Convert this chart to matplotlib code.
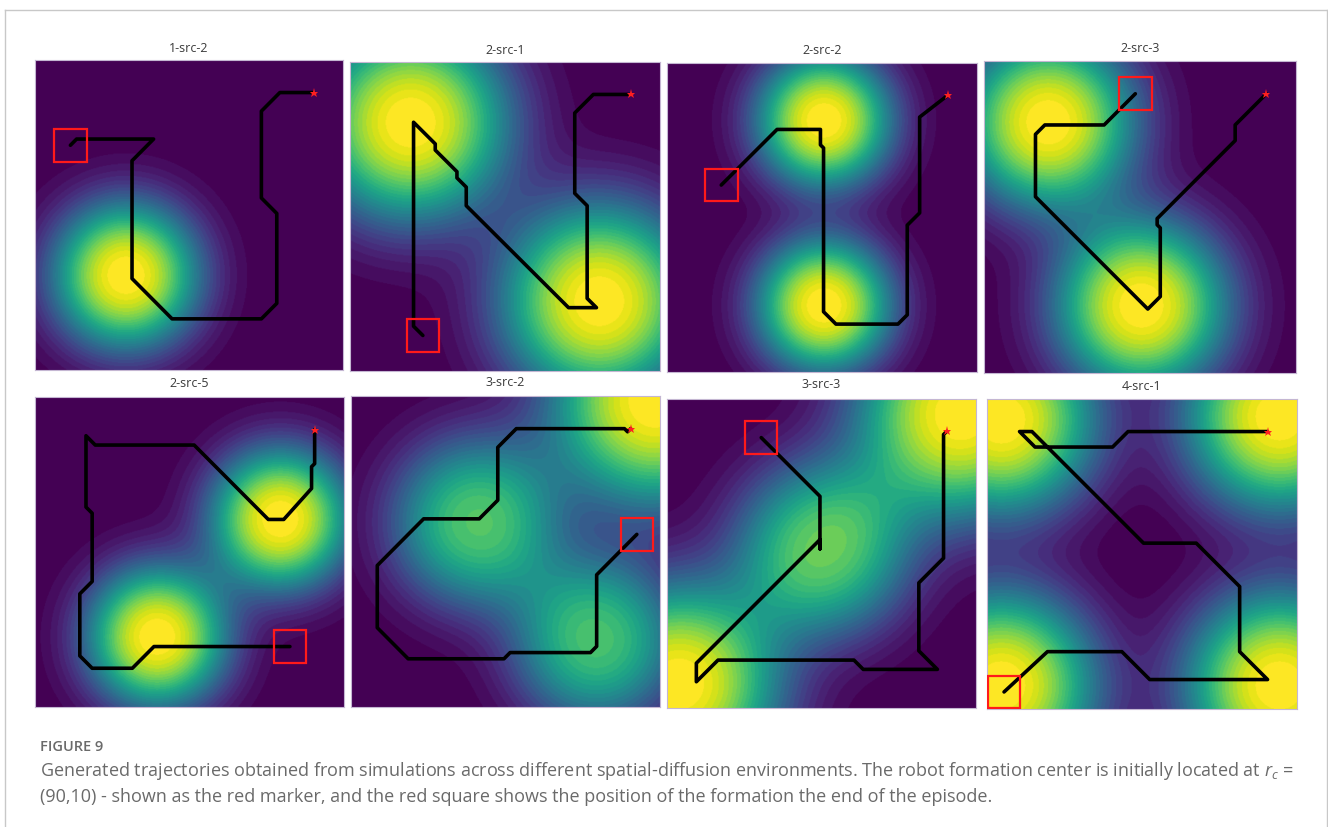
import numpy as np
import matplotlib
matplotlib.use("Agg")
import matplotlib.pyplot as plt
from matplotlib.patches import Rectangle
from matplotlib.lines import Line2D

plt.rcParams['font.family'] = ['Open Sans', 'DejaVu Sans']
plt.rcParams['mathtext.fontset'] = 'custom'
plt.rcParams['mathtext.it'] = 'Open Sans:italic'
plt.rcParams['mathtext.rm'] = 'Open Sans'

W, H = 1328, 827

# ---------------------------------------------------------------- data
TITLES = ["1-src-2", "2-src-1", "2-src-2", "2-src-3",
          "2-src-5", "3-src-2", "3-src-3", "4-src-1"]

START = (90, 10)          # initial formation centre r_c
SQUARE_SIDE = 10.5        # size of the final-position marker (grid cells)

# trajectories of the formation centre (grid cells; x to the right, y downwards)
P1_X = [90, 79, 73, 73, 78, 78, 73, 44, 31, 31, 38, 13, 11]
P1_Y = [10, 10, 16, 44, 49, 78, 83, 83, 70, 32, 25, 25, 27]

P2_X = [90, 78, 72, 72, 76, 76, 79, 70, 37, 37, 34, 34, 27, 27, 20, 20, 23]
P2_Y = [10, 10, 16, 42, 46, 76, 79, 79, 46, 40, 37, 35, 28, 26, 19, 85, 88]

P3_X = [90, 81, 81, 77, 77, 74, 54, 50, 50, 49, 49, 35, 17]
P3_Y = [10, 17, 48, 52, 81, 84, 84, 80, 27, 26, 21, 21, 39]

P4_X = [90, 80, 80, 55, 55, 56, 56, 52, 16, 16, 19, 38, 48]
P4_Y = [10, 20, 25, 50, 52, 53, 75, 79, 43, 23, 20, 20, 10]

P5_X = [90, 90, 89, 89, 80, 75, 51, 19, 16, 16, 18, 18, 14, 14, 18, 31, 38, 82]
P5_Y = [10, 21, 22, 29, 39, 39, 15, 15, 12, 35, 37, 59, 63, 83, 87, 87, 80, 80]

P6_X = [90, 89, 88, 53, 47, 47, 41, 23, 8, 8, 18, 49, 51, 77, 79, 79, 92]
P6_Y = [10, 11, 10, 10, 16, 33, 39, 39, 54, 74, 84, 84, 82, 82, 80, 57, 44]

P7_X = [90, 89, 89, 81, 81, 87, 63, 60, 16, 9, 9, 49, 49, 49, 30]
P7_Y = [10, 11, 51, 59, 81, 87, 87, 84, 84, 91, 85, 45, 48, 31, 12]

P8_X = [90, 45, 40, 15, 10, 14, 50, 67, 81, 81, 90, 52, 43, 19, 5]
P8_Y = [10, 10, 15, 15, 10, 10, 46, 46, 60, 81, 90, 90, 81, 81, 94]

# diffusion sources: (x, y, strength, spread radius)
P1_SRC = [(29, 69, 1.0, 24)]
P2_SRC = [(19, 19, 1.0, 32), (80, 77, 1.0, 32)]
P3_SRC = [(50, 18, 1.0, 22), (50, 78, 1.0, 22)]
P4_SRC = [(20, 19, 1.0, 28), (50, 78, 1.0, 28)]
P5_SRC = [(79, 39, 1.0, 23), (39, 77, 1.0, 23)]
P6_SRC = [(40, 40, 0.72, 27), (79, 78, 0.70, 27), (98, 1, 1.0, 34)]
P7_SRC = [(95, 4, 1.0, 34), (3, 92, 1.0, 33), (50, 48, 0.75, 28)]
P8_SRC = [(4, 6, 1.0, 31), (94, 5, 1.0, 31), (4, 92, 1.0, 31), (94, 92, 1.0, 31)]

DECAY = 2.5   # decay exponent of the concentration profile

PATHS_X = [P1_X, P2_X, P3_X, P4_X, P5_X, P6_X, P7_X, P8_X]
PATHS_Y = [P1_Y, P2_Y, P3_Y, P4_Y, P5_Y, P6_Y, P7_Y, P8_Y]
SOURCES = [P1_SRC, P2_SRC, P3_SRC, P4_SRC, P5_SRC, P6_SRC, P7_SRC, P8_SRC]

# ---------------------------------------------------------------- layout (pixels)
BOXES = [(35, 60, 343, 370), (350, 62, 660, 371), (667, 63, 977, 372), (984, 61, 1296, 373),
         (35, 397, 344, 707), (351, 396, 660, 707), (667, 399, 976, 708), (987, 399, 1297, 709)]
TITLE_Y = [48, 50, 50, 49, 384, 383, 385, 386]

fig = plt.figure(figsize=(W / 100, H / 100), dpi=100)
fig.patch.set_facecolor('white')

grid = np.linspace(-0.5, 99.5, 401)
GX, GY = np.meshgrid(grid, grid)
cmap = plt.get_cmap('viridis', 32)


def concentration(src):
    field = np.zeros_like(GX)
    for sx, sy, amp, radius in src:
        r = np.hypot(GX - sx, GY - sy)
        field += amp * np.exp(-(r / radius) ** DECAY)
    return field


for i, (x0, y0, x1, y1) in enumerate(BOXES):
    ax = fig.add_axes([x0 / W, 1 - y1 / H, (x1 - x0) / W, (y1 - y0) / H])
    F = concentration(SOURCES[i])
    ax.imshow(F, cmap=cmap, extent=(-0.5, 99.5, 99.5, -0.5),
              origin='upper', aspect='auto', interpolation='bilinear')
    ax.plot(PATHS_X[i], PATHS_Y[i], color='black', lw=2.6,
            solid_capstyle='round', solid_joinstyle='round', zorder=3)
    ex, ey = PATHS_X[i][-1], PATHS_Y[i][-1]
    ax.add_patch(Rectangle((ex - SQUARE_SIDE / 2, ey - SQUARE_SIDE / 2),
                           SQUARE_SIDE, SQUARE_SIDE, fill=False,
                           edgecolor='#ff1a1a', lw=1.6, zorder=4))
    ax.plot([START[0]], [START[1]], marker='*', color='#ff2020',
            markersize=6.5, markeredgewidth=0, zorder=5)
    ax.set_xlim(-0.5, 99.5)
    ax.set_ylim(99.5, -0.5)
    ax.set_xticks([])
    ax.set_yticks([])
    for s in ax.spines.values():
        s.set_color('#c4b6d2')
        s.set_linewidth(0.8)
    fig.text((x0 + x1) / 2 / W, 1 - TITLE_Y[i] / H, TITLES[i],
             ha='center', va='center', fontsize=9, color='#3a3a3a')

# outer frame
frame_kw = dict(color='#c8c8c8', lw=1.0, transform=fig.transFigure)
fig.add_artist(Line2D([4.5 / W, 4.5 / W], [0, 1 - 9.5 / H], **frame_kw))
fig.add_artist(Line2D([1326.5 / W, 1326.5 / W], [0, 1 - 9.5 / H], **frame_kw))
fig.add_artist(Line2D([4.5 / W, 1326.5 / W], [1 - 9.5 / H, 1 - 9.5 / H], **frame_kw))

# caption
cap_color = '#6a6a6a'
fig.text(40 / W, 1 - 747 / H, "FIGURE 9", ha='left', va='center',
         fontsize=10.5, color=cap_color, fontweight='semibold')
fig.text(40 / W, 1 - 771 / H,
         "Generated trajectories obtained from simulations across different spatial-diffusion "
         "environments. The robot formation center is initially located at $r_c$ =",
         ha='left', va='center', fontsize=13, color=cap_color)
fig.text(40 / W, 1 - 797 / H,
         "(90,10) - shown as the red marker, and the red square shows the position of the "
         "formation the end of the episode.",
         ha='left', va='center', fontsize=13, color=cap_color)

fig.savefig('out.png', dpi=100, facecolor='white')
